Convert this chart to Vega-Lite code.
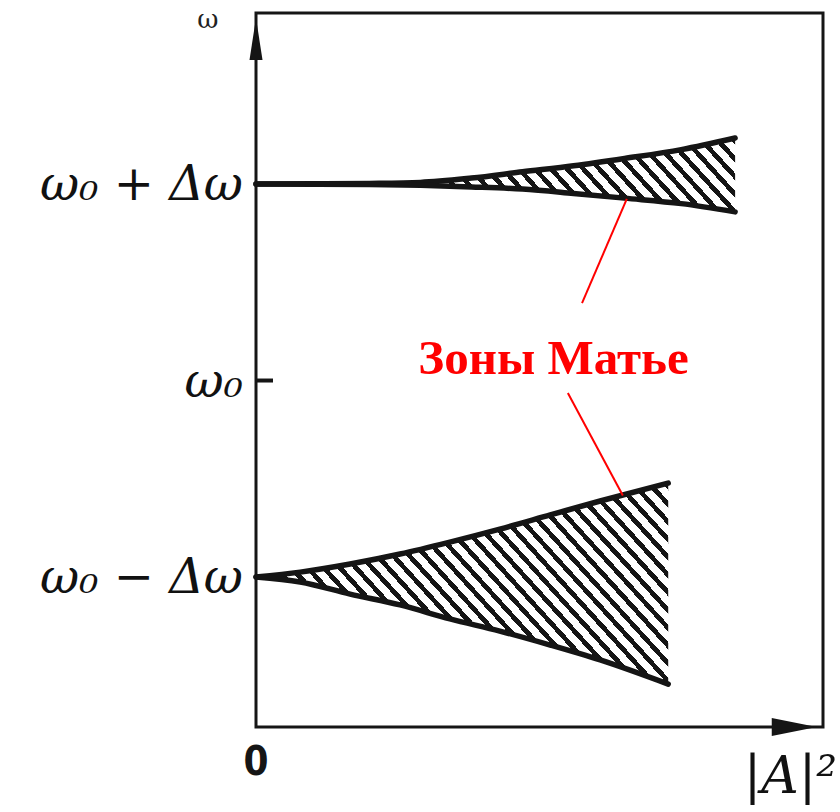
{
  "$schema": "https://vega.github.io/schema/vega-lite/v6.json",
  "width": 567,
  "height": 714,
  "autosize": {"type": "none"},
  "padding": {"left": 256, "top": 13, "right": 17, "bottom": 85},
  "background": "#ffffff",
  "config": {"view": {"stroke": "#161616", "strokeWidth": 3}},
  "datasets": {
    "zones": [
      {"zone": "upper", "x": 0, "hi": 1, "lo": 1},
      {"zone": "upper", "x": 0.1, "hi": 1.001, "lo": 0.999},
      {"zone": "upper", "x": 0.2, "hi": 1.003, "lo": 0.997},
      {"zone": "upper", "x": 0.29, "hi": 1.008, "lo": 0.993},
      {"zone": "upper", "x": 0.38, "hi": 1.03, "lo": 0.985},
      {"zone": "upper", "x": 0.47, "hi": 1.062, "lo": 0.974},
      {"zone": "upper", "x": 0.56, "hi": 1.093, "lo": 0.952},
      {"zone": "upper", "x": 0.65, "hi": 1.13, "lo": 0.928},
      {"zone": "upper", "x": 0.75, "hi": 1.175, "lo": 0.9},
      {"zone": "upper", "x": 0.845, "hi": 1.234, "lo": 0.858},
      {"zone": "lower", "x": 0, "hi": -1, "lo": -1},
      {"zone": "lower", "x": 0.078, "hi": -0.975, "lo": -1.025},
      {"zone": "lower", "x": 0.166, "hi": -0.934, "lo": -1.087},
      {"zone": "lower", "x": 0.254, "hi": -0.883, "lo": -1.142},
      {"zone": "lower", "x": 0.342, "hi": -0.822, "lo": -1.213},
      {"zone": "lower", "x": 0.43, "hi": -0.756, "lo": -1.275},
      {"zone": "lower", "x": 0.519, "hi": -0.684, "lo": -1.346},
      {"zone": "lower", "x": 0.607, "hi": -0.613, "lo": -1.422},
      {"zone": "lower", "x": 0.727, "hi": -0.522, "lo": -1.545}
    ],
    "levels": [
      {"level": 1, "label": "ω₀ + Δω"},
      {"level": 0, "label": "ω₀"},
      {"level": -1, "label": "ω₀ − Δω"}
    ],
    "leaders": [
      {"x": 0.575, "y": 0.394, "x2": 0.654, "y2": 0.924},
      {"x": 0.55, "y": -0.064, "x2": 0.647, "y2": -0.585}
    ]
  },
  "layer": [
    {
      "data": {"name": "zones"},
      "transform": [{"filter": "datum.zone === 'upper'"}],
      "mark": {
        "type": "area",
        "interpolate": "monotone",
        "fill": {
          "gradient": "linear", "x1": 0, "y1": 1, "x2": 1.1184, "y2": 0.8429,
          "stops": [
            {"offset": 0, "color": "#ffffff"}, {"offset": 0.0176, "color": "#ffffff"}, {"offset": 0.0176, "color": "#151515"}, {"offset": 0.0294, "color": "#151515"},
            {"offset": 0.0294, "color": "#ffffff"}, {"offset": 0.0471, "color": "#ffffff"}, {"offset": 0.0471, "color": "#151515"}, {"offset": 0.0588, "color": "#151515"},
            {"offset": 0.0588, "color": "#ffffff"}, {"offset": 0.0765, "color": "#ffffff"}, {"offset": 0.0765, "color": "#151515"}, {"offset": 0.0882, "color": "#151515"},
            {"offset": 0.0882, "color": "#ffffff"}, {"offset": 0.1059, "color": "#ffffff"}, {"offset": 0.1059, "color": "#151515"}, {"offset": 0.1176, "color": "#151515"},
            {"offset": 0.1176, "color": "#ffffff"}, {"offset": 0.1353, "color": "#ffffff"}, {"offset": 0.1353, "color": "#151515"}, {"offset": 0.1471, "color": "#151515"},
            {"offset": 0.1471, "color": "#ffffff"}, {"offset": 0.1647, "color": "#ffffff"}, {"offset": 0.1647, "color": "#151515"}, {"offset": 0.1765, "color": "#151515"},
            {"offset": 0.1765, "color": "#ffffff"}, {"offset": 0.1941, "color": "#ffffff"}, {"offset": 0.1941, "color": "#151515"}, {"offset": 0.2059, "color": "#151515"},
            {"offset": 0.2059, "color": "#ffffff"}, {"offset": 0.2235, "color": "#ffffff"}, {"offset": 0.2235, "color": "#151515"}, {"offset": 0.2353, "color": "#151515"},
            {"offset": 0.2353, "color": "#ffffff"}, {"offset": 0.2529, "color": "#ffffff"}, {"offset": 0.2529, "color": "#151515"}, {"offset": 0.2647, "color": "#151515"},
            {"offset": 0.2647, "color": "#ffffff"}, {"offset": 0.2824, "color": "#ffffff"}, {"offset": 0.2824, "color": "#151515"}, {"offset": 0.2941, "color": "#151515"},
            {"offset": 0.2941, "color": "#ffffff"}, {"offset": 0.3118, "color": "#ffffff"}, {"offset": 0.3118, "color": "#151515"}, {"offset": 0.3235, "color": "#151515"},
            {"offset": 0.3235, "color": "#ffffff"}, {"offset": 0.3412, "color": "#ffffff"}, {"offset": 0.3412, "color": "#151515"}, {"offset": 0.3529, "color": "#151515"},
            {"offset": 0.3529, "color": "#ffffff"}, {"offset": 0.3706, "color": "#ffffff"}, {"offset": 0.3706, "color": "#151515"}, {"offset": 0.3824, "color": "#151515"},
            {"offset": 0.3824, "color": "#ffffff"}, {"offset": 0.4, "color": "#ffffff"}, {"offset": 0.4, "color": "#151515"}, {"offset": 0.4118, "color": "#151515"},
            {"offset": 0.4118, "color": "#ffffff"}, {"offset": 0.4294, "color": "#ffffff"}, {"offset": 0.4294, "color": "#151515"}, {"offset": 0.4412, "color": "#151515"},
            {"offset": 0.4412, "color": "#ffffff"}, {"offset": 0.4588, "color": "#ffffff"}, {"offset": 0.4588, "color": "#151515"}, {"offset": 0.4706, "color": "#151515"},
            {"offset": 0.4706, "color": "#ffffff"}, {"offset": 0.4882, "color": "#ffffff"}, {"offset": 0.4882, "color": "#151515"}, {"offset": 0.5, "color": "#151515"},
            {"offset": 0.5, "color": "#ffffff"}, {"offset": 0.5176, "color": "#ffffff"}, {"offset": 0.5176, "color": "#151515"}, {"offset": 0.5294, "color": "#151515"},
            {"offset": 0.5294, "color": "#ffffff"}, {"offset": 0.5471, "color": "#ffffff"}, {"offset": 0.5471, "color": "#151515"}, {"offset": 0.5588, "color": "#151515"},
            {"offset": 0.5588, "color": "#ffffff"}, {"offset": 0.5765, "color": "#ffffff"}, {"offset": 0.5765, "color": "#151515"}, {"offset": 0.5882, "color": "#151515"},
            {"offset": 0.5882, "color": "#ffffff"}, {"offset": 0.6059, "color": "#ffffff"}, {"offset": 0.6059, "color": "#151515"}, {"offset": 0.6176, "color": "#151515"},
            {"offset": 0.6176, "color": "#ffffff"}, {"offset": 0.6353, "color": "#ffffff"}, {"offset": 0.6353, "color": "#151515"}, {"offset": 0.6471, "color": "#151515"},
            {"offset": 0.6471, "color": "#ffffff"}, {"offset": 0.6647, "color": "#ffffff"}, {"offset": 0.6647, "color": "#151515"}, {"offset": 0.6765, "color": "#151515"},
            {"offset": 0.6765, "color": "#ffffff"}, {"offset": 0.6941, "color": "#ffffff"}, {"offset": 0.6941, "color": "#151515"}, {"offset": 0.7059, "color": "#151515"},
            {"offset": 0.7059, "color": "#ffffff"}, {"offset": 0.7235, "color": "#ffffff"}, {"offset": 0.7235, "color": "#151515"}, {"offset": 0.7353, "color": "#151515"},
            {"offset": 0.7353, "color": "#ffffff"}, {"offset": 0.7529, "color": "#ffffff"}, {"offset": 0.7529, "color": "#151515"}, {"offset": 0.7647, "color": "#151515"},
            {"offset": 0.7647, "color": "#ffffff"}, {"offset": 0.7824, "color": "#ffffff"}, {"offset": 0.7824, "color": "#151515"}, {"offset": 0.7941, "color": "#151515"},
            {"offset": 0.7941, "color": "#ffffff"}, {"offset": 0.8118, "color": "#ffffff"}, {"offset": 0.8118, "color": "#151515"}, {"offset": 0.8235, "color": "#151515"},
            {"offset": 0.8235, "color": "#ffffff"}, {"offset": 0.8412, "color": "#ffffff"}, {"offset": 0.8412, "color": "#151515"}, {"offset": 0.8529, "color": "#151515"},
            {"offset": 0.8529, "color": "#ffffff"}, {"offset": 0.8706, "color": "#ffffff"}, {"offset": 0.8706, "color": "#151515"}, {"offset": 0.8824, "color": "#151515"},
            {"offset": 0.8824, "color": "#ffffff"}, {"offset": 0.9, "color": "#ffffff"}, {"offset": 0.9, "color": "#151515"}, {"offset": 0.9118, "color": "#151515"},
            {"offset": 0.9118, "color": "#ffffff"}, {"offset": 0.9294, "color": "#ffffff"}, {"offset": 0.9294, "color": "#151515"}, {"offset": 0.9412, "color": "#151515"},
            {"offset": 0.9412, "color": "#ffffff"}, {"offset": 0.9588, "color": "#ffffff"}, {"offset": 0.9588, "color": "#151515"}, {"offset": 0.9706, "color": "#151515"},
            {"offset": 0.9706, "color": "#ffffff"}, {"offset": 0.9882, "color": "#ffffff"}, {"offset": 0.9882, "color": "#151515"}, {"offset": 1, "color": "#151515"}
          ]
        }
      },
      "encoding": {
        "x": {"field": "x", "type": "quantitative", "scale": {"domain": [0, 1], "nice": false, "zero": false}, "axis": null},
        "y": {"field": "hi", "type": "quantitative", "scale": {"domain": [-1.763, 1.87], "nice": false, "zero": false}, "axis": null},
        "y2": {"field": "lo"}
      }
    },
    {
      "data": {"name": "zones"},
      "transform": [{"filter": "datum.zone === 'lower'"}],
      "mark": {
        "type": "area",
        "interpolate": "monotone",
        "fill": {
          "gradient": "linear", "x1": 0, "y1": 1, "x2": 1.2062, "y2": 0.465,
          "stops": [
            {"offset": 0, "color": "#ffffff"}, {"offset": 0.0162, "color": "#ffffff"}, {"offset": 0.0162, "color": "#151515"}, {"offset": 0.027, "color": "#151515"},
            {"offset": 0.027, "color": "#ffffff"}, {"offset": 0.0432, "color": "#ffffff"}, {"offset": 0.0432, "color": "#151515"}, {"offset": 0.0541, "color": "#151515"},
            {"offset": 0.0541, "color": "#ffffff"}, {"offset": 0.0703, "color": "#ffffff"}, {"offset": 0.0703, "color": "#151515"}, {"offset": 0.0811, "color": "#151515"},
            {"offset": 0.0811, "color": "#ffffff"}, {"offset": 0.0973, "color": "#ffffff"}, {"offset": 0.0973, "color": "#151515"}, {"offset": 0.1081, "color": "#151515"},
            {"offset": 0.1081, "color": "#ffffff"}, {"offset": 0.1243, "color": "#ffffff"}, {"offset": 0.1243, "color": "#151515"}, {"offset": 0.1351, "color": "#151515"},
            {"offset": 0.1351, "color": "#ffffff"}, {"offset": 0.1514, "color": "#ffffff"}, {"offset": 0.1514, "color": "#151515"}, {"offset": 0.1622, "color": "#151515"},
            {"offset": 0.1622, "color": "#ffffff"}, {"offset": 0.1784, "color": "#ffffff"}, {"offset": 0.1784, "color": "#151515"}, {"offset": 0.1892, "color": "#151515"},
            {"offset": 0.1892, "color": "#ffffff"}, {"offset": 0.2054, "color": "#ffffff"}, {"offset": 0.2054, "color": "#151515"}, {"offset": 0.2162, "color": "#151515"},
            {"offset": 0.2162, "color": "#ffffff"}, {"offset": 0.2324, "color": "#ffffff"}, {"offset": 0.2324, "color": "#151515"}, {"offset": 0.2432, "color": "#151515"},
            {"offset": 0.2432, "color": "#ffffff"}, {"offset": 0.2595, "color": "#ffffff"}, {"offset": 0.2595, "color": "#151515"}, {"offset": 0.2703, "color": "#151515"},
            {"offset": 0.2703, "color": "#ffffff"}, {"offset": 0.2865, "color": "#ffffff"}, {"offset": 0.2865, "color": "#151515"}, {"offset": 0.2973, "color": "#151515"},
            {"offset": 0.2973, "color": "#ffffff"}, {"offset": 0.3135, "color": "#ffffff"}, {"offset": 0.3135, "color": "#151515"}, {"offset": 0.3243, "color": "#151515"},
            {"offset": 0.3243, "color": "#ffffff"}, {"offset": 0.3405, "color": "#ffffff"}, {"offset": 0.3405, "color": "#151515"}, {"offset": 0.3514, "color": "#151515"},
            {"offset": 0.3514, "color": "#ffffff"}, {"offset": 0.3676, "color": "#ffffff"}, {"offset": 0.3676, "color": "#151515"}, {"offset": 0.3784, "color": "#151515"},
            {"offset": 0.3784, "color": "#ffffff"}, {"offset": 0.3946, "color": "#ffffff"}, {"offset": 0.3946, "color": "#151515"}, {"offset": 0.4054, "color": "#151515"},
            {"offset": 0.4054, "color": "#ffffff"}, {"offset": 0.4216, "color": "#ffffff"}, {"offset": 0.4216, "color": "#151515"}, {"offset": 0.4324, "color": "#151515"},
            {"offset": 0.4324, "color": "#ffffff"}, {"offset": 0.4486, "color": "#ffffff"}, {"offset": 0.4486, "color": "#151515"}, {"offset": 0.4595, "color": "#151515"},
            {"offset": 0.4595, "color": "#ffffff"}, {"offset": 0.4757, "color": "#ffffff"}, {"offset": 0.4757, "color": "#151515"}, {"offset": 0.4865, "color": "#151515"},
            {"offset": 0.4865, "color": "#ffffff"}, {"offset": 0.5027, "color": "#ffffff"}, {"offset": 0.5027, "color": "#151515"}, {"offset": 0.5135, "color": "#151515"},
            {"offset": 0.5135, "color": "#ffffff"}, {"offset": 0.5297, "color": "#ffffff"}, {"offset": 0.5297, "color": "#151515"}, {"offset": 0.5405, "color": "#151515"},
            {"offset": 0.5405, "color": "#ffffff"}, {"offset": 0.5568, "color": "#ffffff"}, {"offset": 0.5568, "color": "#151515"}, {"offset": 0.5676, "color": "#151515"},
            {"offset": 0.5676, "color": "#ffffff"}, {"offset": 0.5838, "color": "#ffffff"}, {"offset": 0.5838, "color": "#151515"}, {"offset": 0.5946, "color": "#151515"},
            {"offset": 0.5946, "color": "#ffffff"}, {"offset": 0.6108, "color": "#ffffff"}, {"offset": 0.6108, "color": "#151515"}, {"offset": 0.6216, "color": "#151515"},
            {"offset": 0.6216, "color": "#ffffff"}, {"offset": 0.6378, "color": "#ffffff"}, {"offset": 0.6378, "color": "#151515"}, {"offset": 0.6486, "color": "#151515"},
            {"offset": 0.6486, "color": "#ffffff"}, {"offset": 0.6649, "color": "#ffffff"}, {"offset": 0.6649, "color": "#151515"}, {"offset": 0.6757, "color": "#151515"},
            {"offset": 0.6757, "color": "#ffffff"}, {"offset": 0.6919, "color": "#ffffff"}, {"offset": 0.6919, "color": "#151515"}, {"offset": 0.7027, "color": "#151515"},
            {"offset": 0.7027, "color": "#ffffff"}, {"offset": 0.7189, "color": "#ffffff"}, {"offset": 0.7189, "color": "#151515"}, {"offset": 0.7297, "color": "#151515"},
            {"offset": 0.7297, "color": "#ffffff"}, {"offset": 0.7459, "color": "#ffffff"}, {"offset": 0.7459, "color": "#151515"}, {"offset": 0.7568, "color": "#151515"},
            {"offset": 0.7568, "color": "#ffffff"}, {"offset": 0.773, "color": "#ffffff"}, {"offset": 0.773, "color": "#151515"}, {"offset": 0.7838, "color": "#151515"},
            {"offset": 0.7838, "color": "#ffffff"}, {"offset": 0.8, "color": "#ffffff"}, {"offset": 0.8, "color": "#151515"}, {"offset": 0.8108, "color": "#151515"},
            {"offset": 0.8108, "color": "#ffffff"}, {"offset": 0.827, "color": "#ffffff"}, {"offset": 0.827, "color": "#151515"}, {"offset": 0.8378, "color": "#151515"},
            {"offset": 0.8378, "color": "#ffffff"}, {"offset": 0.8541, "color": "#ffffff"}, {"offset": 0.8541, "color": "#151515"}, {"offset": 0.8649, "color": "#151515"},
            {"offset": 0.8649, "color": "#ffffff"}, {"offset": 0.8811, "color": "#ffffff"}, {"offset": 0.8811, "color": "#151515"}, {"offset": 0.8919, "color": "#151515"},
            {"offset": 0.8919, "color": "#ffffff"}, {"offset": 0.9081, "color": "#ffffff"}, {"offset": 0.9081, "color": "#151515"}, {"offset": 0.9189, "color": "#151515"},
            {"offset": 0.9189, "color": "#ffffff"}, {"offset": 0.9351, "color": "#ffffff"}, {"offset": 0.9351, "color": "#151515"}, {"offset": 0.9459, "color": "#151515"},
            {"offset": 0.9459, "color": "#ffffff"}, {"offset": 0.9622, "color": "#ffffff"}, {"offset": 0.9622, "color": "#151515"}, {"offset": 0.973, "color": "#151515"},
            {"offset": 0.973, "color": "#ffffff"}, {"offset": 0.9892, "color": "#ffffff"}, {"offset": 0.9892, "color": "#151515"}, {"offset": 1, "color": "#151515"}
          ]
        }
      },
      "encoding": {
        "x": {"field": "x", "type": "quantitative"},
        "y": {"field": "hi", "type": "quantitative"},
        "y2": {"field": "lo"}
      }
    },
    {
      "data": {"name": "zones"},
      "mark": {"type": "line", "interpolate": "monotone", "strokeWidth": 5.5, "color": "#151515", "strokeCap": "round"},
      "encoding": {
        "x": {"field": "x", "type": "quantitative"},
        "y": {"field": "hi", "type": "quantitative"},
        "detail": {"field": "zone"}
      }
    },
    {
      "data": {"name": "zones"},
      "mark": {"type": "line", "interpolate": "monotone", "strokeWidth": 5.5, "color": "#151515", "strokeCap": "round"},
      "encoding": {
        "x": {"field": "x", "type": "quantitative"},
        "y": {"field": "lo", "type": "quantitative"},
        "detail": {"field": "zone"}
      }
    },
    {
      "data": {"name": "levels"},
      "transform": [{"filter": "datum.level === 0"}],
      "mark": {"type": "rule", "strokeWidth": 4, "color": "#151515"},
      "encoding": {
        "x": {"datum": 0},
        "x2": {"datum": 0.03},
        "y": {"field": "level", "type": "quantitative"}
      }
    },
    {
      "data": {"values": [{}]},
      "mark": {"type": "point", "shape": "M0,0L0.31,2L-0.31,2Z", "size": 1764, "filled": true, "color": "#151515", "opacity": 1},
      "encoding": {"x": {"datum": 0}, "y": {"datum": 1.845}}
    },
    {
      "data": {"values": [{}]},
      "mark": {"type": "point", "shape": "M0,0L-2,0.4L-2,-0.4Z", "size": 2025, "filled": true, "color": "#151515", "opacity": 1},
      "encoding": {"x": {"datum": 0.989}, "y": {"datum": -1.763}}
    },
    {
      "data": {"name": "leaders"},
      "mark": {"type": "rule", "strokeWidth": 2, "color": "#ff0000"},
      "encoding": {
        "x": {"field": "x", "type": "quantitative"},
        "y": {"field": "y", "type": "quantitative"},
        "x2": {"field": "x2"},
        "y2": {"field": "y2"}
      }
    },
    {
      "data": {"values": [{"note": "Зоны Матье"}]},
      "mark": {"type": "text", "font": "Liberation Serif", "fontWeight": "bold", "fontSize": 49, "color": "#ff0000", "align": "center", "baseline": "alphabetic"},
      "encoding": {"x": {"datum": 0.5247}, "y": {"datum": 0.033}, "text": {"field": "note"}}
    },
    {
      "data": {"name": "levels"},
      "mark": {"type": "text", "font": "DejaVu Serif", "fontStyle": "italic", "fontSize": 48, "color": "#111111", "align": "right", "baseline": "middle", "dx": -13, "dy": 2},
      "encoding": {
        "x": {"datum": 0},
        "y": {"field": "level", "type": "quantitative"},
        "text": {"field": "label"}
      }
    },
    {
      "data": {"values": [{"title": "ω"}]},
      "mark": {"type": "text", "font": "DejaVu Serif", "fontSize": 26, "color": "#222222", "align": "center", "baseline": "middle"},
      "encoding": {"x": {"datum": -0.085}, "y": {"datum": 1.835}, "text": {"field": "title"}}
    },
    {
      "data": {"values": [{"origin": "0"}]},
      "mark": {"type": "text", "font": "Liberation Sans Narrow, DejaVu Sans Condensed, Liberation Sans", "fontWeight": "bold", "fontSize": 40, "color": "#151515", "align": "center", "baseline": "top", "dy": 16},
      "encoding": {"x": {"datum": 0}, "y": {"datum": -1.763}, "text": {"field": "origin"}}
    },
    {
      "data": {"values": [{"title": "|A|²"}]},
      "mark": {"type": "text", "font": "DejaVu Serif", "fontStyle": "italic", "fontSize": 52, "color": "#111111", "align": "right", "baseline": "alphabetic", "dy": 66},
      "encoding": {"x": {"datum": 1.025}, "y": {"datum": -1.763}, "text": {"field": "title"}}
    }
  ]
}
